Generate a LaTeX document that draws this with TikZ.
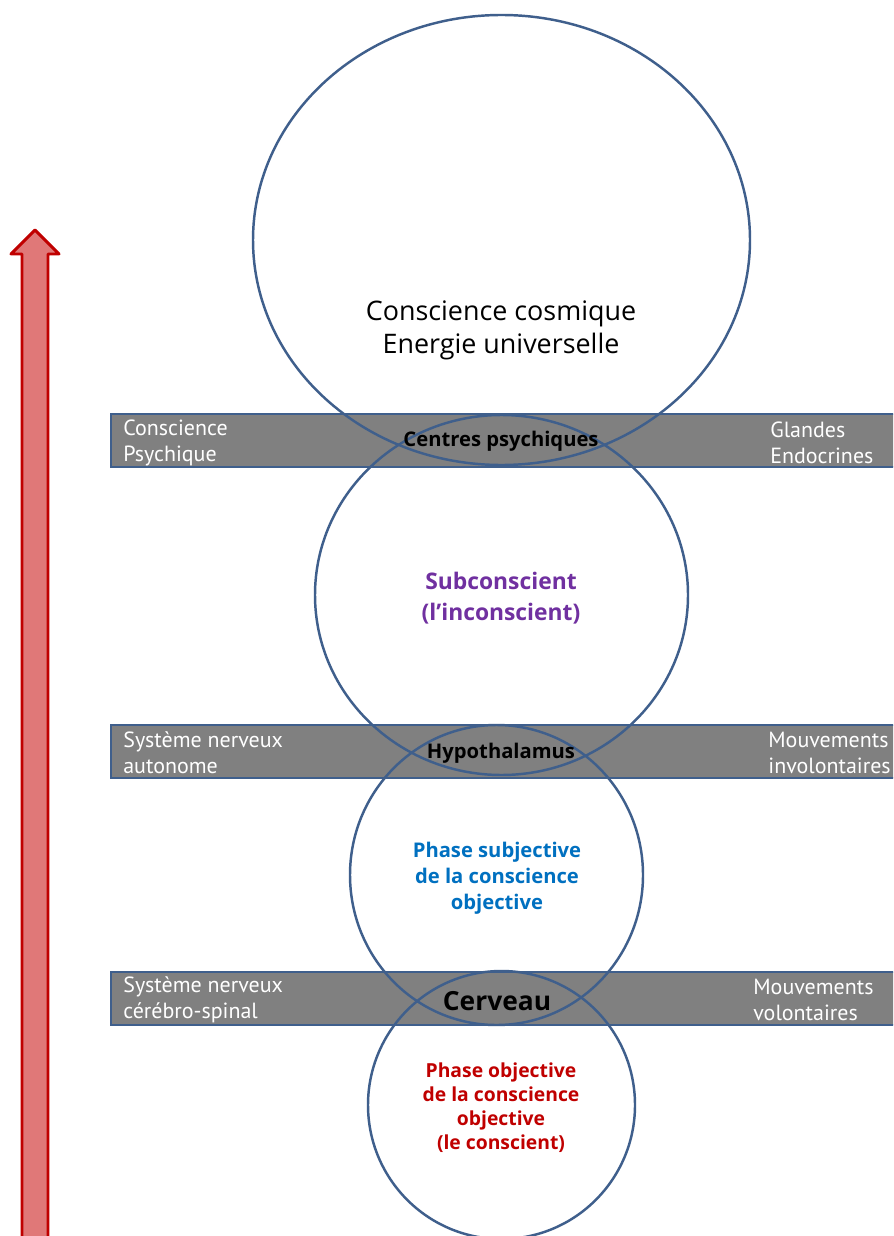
\documentclass[tikz,border=0pt]{standalone}
\usepackage{fontspec}
\setmainfont{Open Sans}
\newfontfamily\sidefont{PT Sans}
\usetikzlibrary{shapes.geometric}
\definecolor{ringblue}{HTML}{3F5F8C}
\definecolor{bandgray}{HTML}{808080}
\definecolor{arrowfill}{HTML}{E07878}
\definecolor{arrowline}{HTML}{C00000}
\definecolor{subpurple}{HTML}{7030A0}
\definecolor{subjblue}{HTML}{0070C0}
\definecolor{objred}{HTML}{C00000}
\tikzset{
  ring/.style={draw=ringblue, line width=1.4pt},
  band/.style={fill=bandgray, draw=ringblue, line width=1.1pt},
  sidelabel/.style={text=white, align=left, inner sep=0pt, anchor=west, font=\sidefont\fontsize{12.5}{14.7}\selectfont},
  bandtitle/.style={text=black, inner sep=0pt, font=\bfseries\fontsize{11.5}{14}\selectfont},
  inner/.style={inner sep=0pt, align=center, font=\bfseries\fontsize{11.5}{14.4}\selectfont}
}
\begin{document}
\begin{tikzpicture}[x=0.02cm, y=-0.02cm]
\clip (0,0) rectangle (893,1236);
\fill[white] (0,0) rectangle (893,1236);
% bands
\draw[band] (111,414) rectangle (910,467);
\draw[band] (111,725) rectangle (910,778);
\draw[band] (111,972) rectangle (910,1025);
% rings
\draw[ring] (501.5,240) ellipse [x radius=248.5, y radius=225];
\draw[ring] (501.5,595) ellipse [x radius=186.5, y radius=180];
\draw[ring] (496.5,875) ellipse [x radius=146.5, y radius=150];
\draw[ring] (501.5,1105) ellipse [x radius=133.5, y radius=134];
% arrow
\draw[fill=arrowfill, draw=arrowline, line width=1.7pt, line join=round]
  (22,1260) -- (22,254) -- (11,254) -- (35,230) -- (59,254) -- (48,254) -- (48,1260);
% texts
\node[inner sep=0pt, align=center, font=\fontsize{15.3}{18.7}\selectfont] (cosmic) at (501,330) {Conscience cosmique\\Energie universelle};
\node[bandtitle] (centres) at (501,441) {Centres psychiques};
\node[inner, text=subpurple, font=\bfseries\fontsize{13}{17.6}\selectfont] (subc) at (501,598) {Subconscient\\(l’inconscient)};
\node[bandtitle] (hypo) at (501,753) {Hypothalamus};
\node[inner, text=subjblue, font=\bfseries\fontsize{11.5}{14.7}\selectfont] (subj) at (497,878) {Phase subjective\\de la conscience\\objective};
\node[bandtitle, font=\bfseries\fontsize{15}{18}\selectfont] (cerveau) at (497,1001) {Cerveau};
\node[inner, text=objred, font=\bfseries\fontsize{11}{13.6}\selectfont] (obj) at (501,1108) {Phase objective\\de la conscience\\objective\\(le conscient)};
% side labels
\node[sidelabel] (cpsy) at (123,443) {Conscience\\Psychique};
\node[sidelabel] (glandes) at (770,443) {Glandes\\Endocrines};
\node[sidelabel] (sna) at (123,753) {Système nerveux\\autonome};
\node[sidelabel] (minv) at (768,753) {Mouvements\\involontaires};
\node[sidelabel] (sncs) at (123,1000) {Système nerveux\\cérébro-spinal};
\node[sidelabel] (mvol) at (753,1000) {Mouvements\\volontaires};
\end{tikzpicture}
\end{document}
